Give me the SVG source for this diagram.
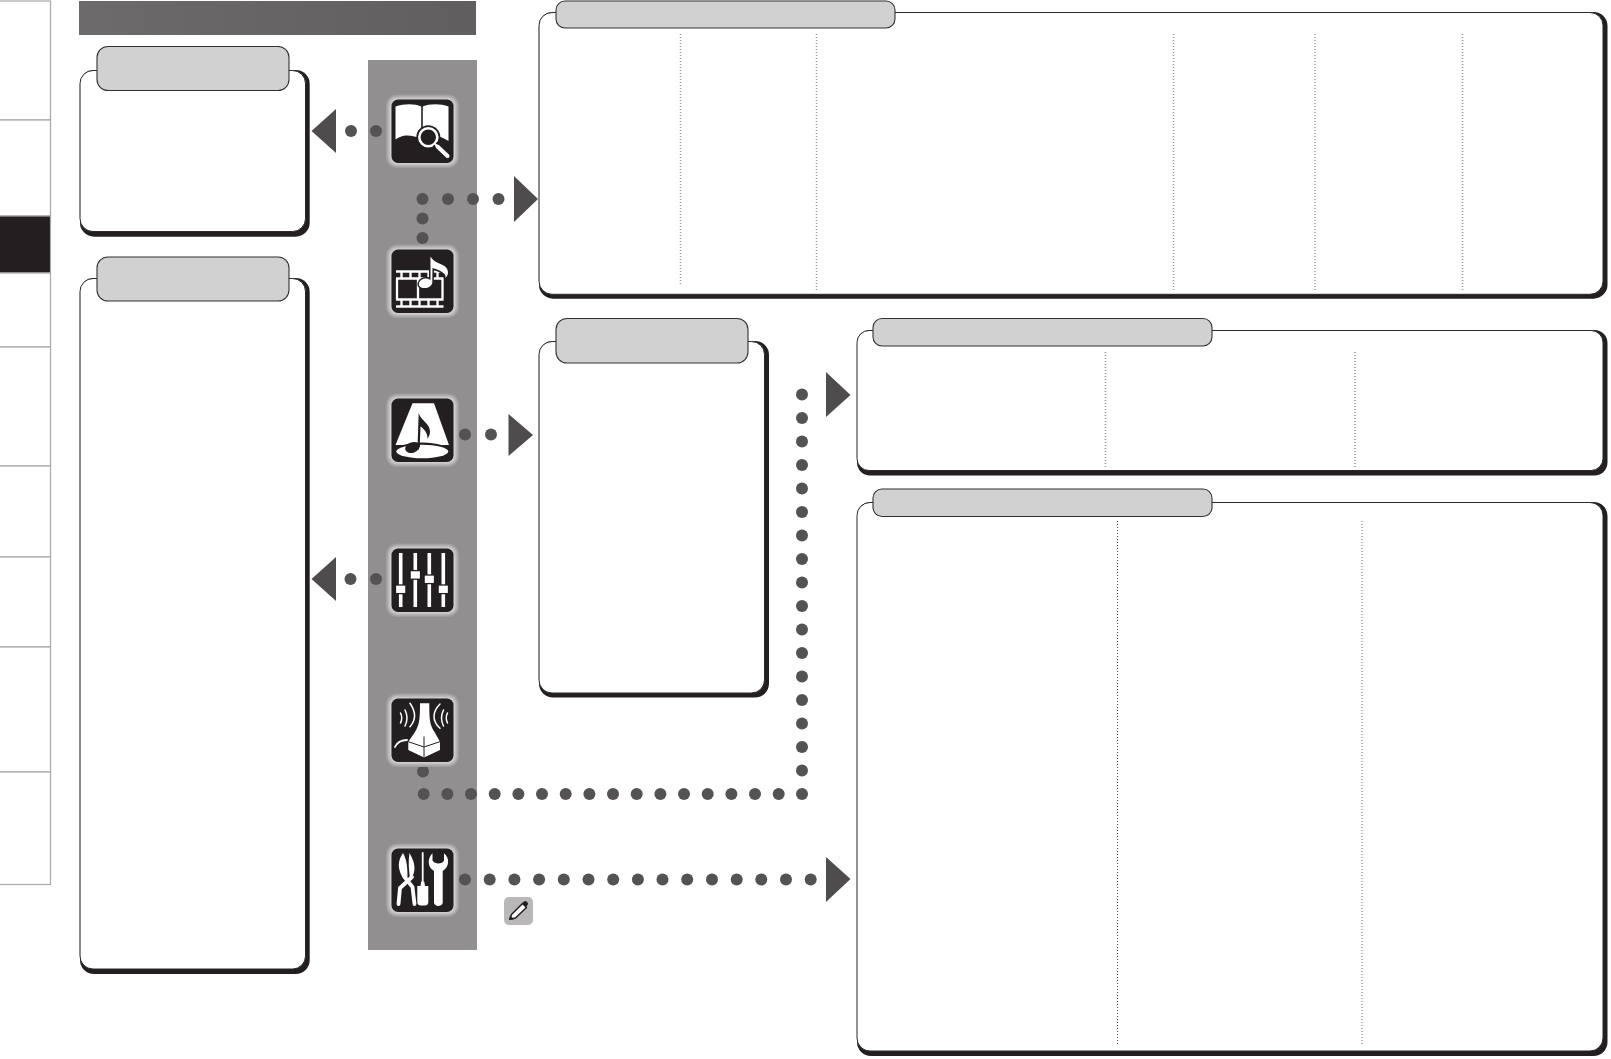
<svg xmlns="http://www.w3.org/2000/svg" width="1611" height="1059" viewBox="0 0 1611 1059">
<style>
.shadow{fill:#231f20}
.panel{fill:#fff;stroke:#2b2829;stroke-width:1}
.edge{fill:none;stroke:#8a8889;stroke-width:1.4}
.tab{fill:#d1d1d1;stroke:#333031;stroke-width:1.1}
.div{stroke:#9a9899;stroke-width:1.5;stroke-dasharray:1 2;fill:none}
.div2{stroke:#4a4748;stroke-width:1;stroke-dasharray:1 2;fill:none}
.side{fill:#fff;stroke:#a9a7a8;stroke-width:1.2}
#connectors circle{fill:#555254;r:6px}
#connectors polygon{fill:#4f4c4d}
.w{fill:#fff}
.ws{fill:none;stroke:#fff;stroke-linecap:round}
.k{fill:#231f20}
.ks{fill:none;stroke:#231f20}
</style>
<defs>
<linearGradient id="bar" x1="0" x2="1" y1="0" y2="0"><stop offset="0" stop-color="#6c6a6b"/><stop offset="1" stop-color="#605e5f"/></linearGradient>
<g id="base">
<rect x="-36.5" y="-36.5" width="73" height="73.5" rx="11" fill="#a09e9f"/>
<rect x="-35.5" y="-35.5" width="71" height="71.5" rx="10" fill="#aba9aa"/>
<rect x="-34.5" y="-34.5" width="69" height="69.5" rx="9" fill="#b7b5b6"/>
<rect x="-33.5" y="-33.5" width="67" height="67.5" rx="8" fill="#c3c1c2"/>
<rect x="-32.5" y="-32.5" width="65" height="65.5" rx="8" fill="#cfcdce"/>
<rect x="-31" y="-31.5" width="62" height="63.5" rx="6.5" fill="#231f20"/>
</g>
</defs>

<g id="sidebar">
<rect class="side" x="-2" y="1" width="52.5" height="119"/>
<rect class="side" x="-2" y="120" width="52.5" height="96"/>
<rect x="-2" y="216" width="52.5" height="57" fill="#231f20" stroke="#a9a7a8" stroke-width="1.2"/>
<rect class="side" x="-2" y="273" width="52.5" height="74"/>
<rect class="side" x="-2" y="347" width="52.5" height="119"/>
<rect class="side" x="-2" y="466" width="52.5" height="91"/>
<rect class="side" x="-2" y="557" width="52.5" height="90"/>
<rect class="side" x="-2" y="647" width="52.5" height="125"/>
<rect class="side" x="-2" y="772" width="52.5" height="112.5"/>
</g>

<rect id="header-bar" x="79" y="1" width="397" height="34" fill="url(#bar)"/>
<rect id="icon-column" x="368" y="60" width="109" height="890" fill="#918f90"/>

<g id="panel-a">
<rect class="shadow" x="80" y="70" width="229.7" height="166.7" rx="14"/>
<rect class="panel" x="80" y="70.5" width="225.5" height="161" rx="13"/>
<path class="edge" d="M80 84V218"/>
<rect class="tab" x="97" y="46.5" width="192" height="44" rx="11"/>
</g>
<g id="panel-b">
<rect class="shadow" x="80" y="278" width="229.7" height="696" rx="14"/>
<rect class="panel" x="80" y="278.5" width="225.5" height="690.5" rx="13"/>
<path class="edge" d="M80 292V956"/>
<rect class="tab" x="97" y="257" width="192" height="44" rx="11"/>
</g>
<g id="panel-c">
<rect class="shadow" x="539" y="12" width="1068.5" height="286.7" rx="14"/>
<rect class="panel" x="539" y="12.5" width="1064" height="281.8" rx="13"/>
<path class="edge" d="M539 26V281"/>
<rect class="tab" x="556" y="1" width="339" height="27" rx="9"/>
<path class="div" d="M680.5 34V285M816.5 34V291M1173.5 34V291M1315 34V291M1462.5 34V291"/>
</g>
<g id="panel-d">
<rect class="shadow" x="539" y="341" width="230" height="356.5" rx="14"/>
<rect class="panel" x="539" y="341.5" width="225.5" height="351.5" rx="13"/>
<path class="edge" d="M539 355V680"/>
<rect class="tab" x="556" y="318.5" width="192" height="44.5" rx="11"/>
</g>
<g id="panel-e">
<rect class="shadow" x="857" y="330" width="750.5" height="145.5" rx="13"/>
<rect class="panel" x="857" y="330.5" width="746" height="140" rx="12"/>
<rect class="tab" x="873" y="318.5" width="339" height="27.5" rx="9"/>
<path class="div" d="M1105.5 352V467"/>
<path class="div2" d="M1355 352V467"/>
</g>
<g id="panel-f">
<rect class="shadow" x="857" y="502" width="750.5" height="554" rx="14"/>
<rect class="panel" x="857" y="502.5" width="746" height="548.5" rx="13"/>
<rect class="tab" x="873" y="489" width="339" height="27.5" rx="9"/>
<path class="div2" d="M1117.5 521V1044"/>
<path class="div" d="M1362 521V1044"/>
</g>

<g id="connectors">
<circle cx="351" cy="131"/><circle cx="376" cy="131"/>
<polygon points="311.5,131 336,109 336,153"/>
<circle cx="422.5" cy="238"/><circle cx="422.5" cy="218.5"/><circle cx="422.5" cy="199"/><circle cx="448" cy="199"/><circle cx="473" cy="199"/><circle cx="498.5" cy="199"/>
<polygon points="538,199 514,176 514,222"/>
<circle cx="465" cy="434.5"/><circle cx="491" cy="434.5"/>
<polygon points="533,435 508.5,414 508.5,456"/>
<circle cx="350.5" cy="579"/><circle cx="376" cy="579"/>
<polygon points="311.5,579 336,557 336,601"/>
<circle cx="423" cy="771.5"/>
<circle cx="423.7" cy="794"/><circle cx="447.4" cy="794"/><circle cx="471" cy="794"/><circle cx="494.7" cy="794"/><circle cx="518.4" cy="794"/><circle cx="542" cy="794"/><circle cx="565.7" cy="794"/><circle cx="589.4" cy="794"/><circle cx="613" cy="794"/><circle cx="636.7" cy="794"/><circle cx="660.4" cy="794"/><circle cx="684" cy="794"/><circle cx="707.7" cy="794"/><circle cx="731.4" cy="794"/><circle cx="755" cy="794"/><circle cx="778.7" cy="794"/><circle cx="802" cy="794"/>
<circle cx="802" cy="770.5"/><circle cx="802" cy="747"/><circle cx="802" cy="723.5"/><circle cx="802" cy="700"/><circle cx="802" cy="676.5"/><circle cx="802" cy="653"/><circle cx="802" cy="629.5"/><circle cx="802" cy="606"/><circle cx="802" cy="582.5"/><circle cx="802" cy="559"/><circle cx="802" cy="535.5"/><circle cx="802" cy="512"/><circle cx="802" cy="488.5"/><circle cx="802" cy="465"/><circle cx="802" cy="441.5"/><circle cx="802" cy="418"/><circle cx="802" cy="394.5"/>
<polygon points="850.5,395 826,372 826,417"/>
<circle cx="465" cy="879.5"/><circle cx="489.7" cy="879.5"/><circle cx="514.4" cy="879.5"/><circle cx="539.1" cy="879.5"/><circle cx="563.8" cy="879.5"/><circle cx="588.5" cy="879.5"/><circle cx="613.2" cy="879.5"/><circle cx="637.9" cy="879.5"/><circle cx="662.5" cy="879.5"/><circle cx="687.2" cy="879.5"/><circle cx="712" cy="879.5"/><circle cx="736.7" cy="879.5"/><circle cx="761.3" cy="879.5"/><circle cx="786" cy="879.5"/><circle cx="810.7" cy="879.5"/>
<polygon points="850.5,879 826,857 826,902"/>
</g>

<g id="icon-book" transform="translate(422.5 131)">
<use href="#base"/>
<path class="w" d="M-27 -24.5C-18 -27.5 -8 -27.5 -1.3 -24.5V7C-6 6 -12 4 -17 4.5C-21 5 -24 6.5 -27 8.5ZM0.3 -24.5C7 -27.5 18 -27.5 26 -24.5V10C20 6 14 4 8 4C4 4 2 5 0.3 7Z"/>
<circle cx="5.8" cy="6.3" r="12" class="k"/>
<circle cx="5.8" cy="6.3" r="9" class="k" stroke="#fff" stroke-width="2.6"/>
<path fill="none" stroke="#231f20" stroke-width="6.5" d="M12.5 13L25 25"/>
<path class="ws" stroke-width="4" d="M15 15.5L25 25"/>
<path class="ws" stroke-width="1.8" d="M12.5 13L15 15.5"/>
</g>

<g id="icon-film" transform="translate(422.5 281)">
<use href="#base"/>
<path fill="none" stroke="#fff" stroke-width="2.3" d="M-26.5 -9.5H21M-26.5 -2.5H21M-26.5 18.5H21M-26.5 25.5H21M-25.5 -2.5V18.5M-4.5 -2.5V18.5M20 -2.5V18.5M-21 -9.5V-2.5M-12 -9.5V-2.5M-3 -9.5V-2.5M6 -9.5V-2.5M15 -9.5V-2.5M-21 18.5V25.5M-12 18.5V25.5M-3 18.5V25.5M6 18.5V25.5M15 18.5V25.5"/>
<path class="k" stroke="#231f20" stroke-width="3" stroke-linejoin="round" d="M8 1.5L8 -24.5C11 -19 17 -18 22 -15C27 -11 26 -6 23 -3C24 -8 17 -11 10 -13L9.8 1.5C9.5 5 6 7 2 7C-2 7 -4 5 -3.6 2.5C-3 -1 1 -3 5 -2.5C6 -2.3 7 -1.5 8 -1Z"/>
<path class="w" d="M8 1.5L8 -24.5C11 -19 17 -18 22 -15C27 -11 26 -6 23 -3C24 -8 17 -11 10 -13L9.8 1.5C9.5 5 6 7 2 7C-2 7 -4 5 -3.6 2.5C-3 -1 1 -3 5 -2.5C6 -2.3 7 -1.5 8 -1Z"/>
</g>

<g id="icon-surround" transform="translate(422.5 430)">
<use href="#base"/>
<path class="w" d="M-10 -26.7H11.5L26.5 15L-27 15Z"/>
<ellipse cx="-0.2" cy="21" rx="27" ry="8.5" class="k"/>
<ellipse cx="-0.2" cy="21.5" rx="26" ry="6.8" class="w"/>
<ellipse cx="-10" cy="17.5" rx="7.5" ry="5.2" class="k" transform="rotate(-18 -10 17.5)"/>
<path class="k" d="M-5 17L-3.8 -17C-2 -10 7 -7 7.5 1C7.7 4 6.5 6.5 5 9C5.5 3 1 -1.5 -2 -3.5L-2.8 17Z"/>
</g>

<g id="icon-mixer" transform="translate(422.5 580)">
<use href="#base"/>
<path class="ws" stroke-width="3.6" style="stroke-linecap:butt" d="M-21.8 -27V27M-7.2 -27V27M6.8 -27V27M20.8 -27V27"/>
<g class="w" stroke="#231f20" stroke-width="1.3">
<rect x="-27" y="5" width="10.4" height="8.6"/>
<rect x="-12.4" y="-9.4" width="10.4" height="8.6"/>
<rect x="1.6" y="-5" width="10.4" height="8.6"/>
<rect x="15.6" y="5" width="10.4" height="8.6"/>
</g>
</g>

<g id="icon-speaker" transform="translate(422.5 730)">
<use href="#base"/>
<path class="w" d="M-2.5 -26.7H6.8C6.8 -12 7 -5 12 2L17.5 11.7V20L1.5 27.5L-14.2 20V11.7L-7.5 2C-3 -5 -2.5 -12 -2.5 -26.7Z"/>
<path class="ks" stroke-width="1" d="M1.5 6.5V16.5M-14.2 11.7L1.5 17L17.5 11.7M1.5 17V27.5"/>
<path class="ws" stroke-width="1.5" d="M-22 -17C-20.5 -14 -20.5 -10 -22 -7M-17.5 -20C-15 -15 -15 -9 -17.5 -4M-12.5 -26.7C-6.5 -18 -6.5 -10 -12.5 -3.3"/>
<path class="ws" stroke-width="1.5" d="M25 -17C23.5 -14 23.5 -10 25 -7M21 -20C18.5 -15 18.5 -9 21 -4M17.5 -26C9.5 -18 9.5 -9 17.5 -1.7"/>
<path class="ws" stroke-width="1.8" d="M-27.5 17C-25 11.5 -21 10 -15.5 10"/>
</g>

<g id="icon-tools" transform="translate(422.5 880)">
<use href="#base"/>
<path class="w" d="M-19.5 -27C-25 -19 -25 -12 -20 -2.5L-15 -1C-15 -10 -15 -19 -19.5 -27ZM-13 -27C-9 -20 -6.5 -13 -9 -6L-12.5 -1C-13.5 -10 -14.5 -19 -13 -27Z"/>
<path class="ws" stroke-width="3.8" d="M-18 -3L-10 7L-8 24M-10.5 -3L-22.5 8L-24 24"/>
<path class="ws" stroke-width="1.8" d="M0.2 -27V2"/>
<path class="w" d="M-1.3 1.5H1.7L2.5 6H5.8V22C5.8 25 4 25.5 0.5 25.5C-3 25.5 -5.2 25 -5.2 22V6H-2Z"/>
<path class="w" d="M10 -26.7C5 -22 4.5 -13 11.5 -9V22.5C11.5 27 20.2 27 20.2 22.5V-9C27 -13 27.5 -22 21.5 -26.7V-19.5C20 -15.5 12 -15.5 10 -19.5Z"/>
</g>

<g id="note-icon" transform="translate(518.5 911)">
<rect x="-14.5" y="-14" width="29" height="28" rx="5" fill="#b9b7b8"/>
<path fill="#fff" stroke="#231f20" stroke-width="1.5" stroke-linejoin="round" d="M-8.5 8L-7 3.5L4 -7.5L8 -3.5L-3 7Z"/>
<path class="k" d="M-9.5 9L-8.5 4.5L-4.5 8.5ZM3.5 -7.5L5.5 -9.5C6.5 -10.5 7.5 -10 8.5 -9C9.5 -8 10 -7 9 -6L7.5 -4Z"/>
</g>
</svg>
